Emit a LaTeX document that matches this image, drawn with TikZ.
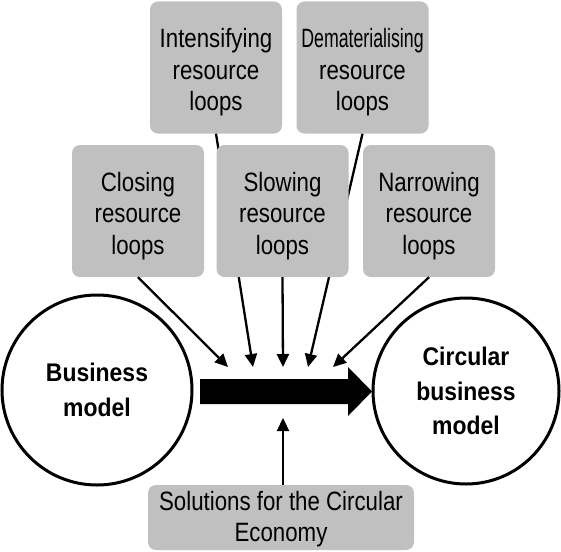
\documentclass[tikz,border=0pt]{standalone}
\usepackage{fontspec}
\setmainfont{Liberation Sans}
\newfontfamily\boxfont[FakeStretch=0.84]{Liberation Sans}
\newfontfamily\squeezefont[FakeStretch=0.67]{Liberation Sans}
\newfontfamily\modelfont[FakeStretch=0.9]{Liberation Sans Bold}
\usetikzlibrary{arrows.meta}

\begin{document}
\begin{tikzpicture}[x=1pt,y=-1pt,
    loopbox/.style={fill={rgb,255:red,192;green,192;blue,192}, rounded corners=8pt,
      minimum width=132pt, minimum height=132pt, inner sep=0pt, align=center,
      font=\boxfont\fontsize{26.5}{31.5}\selectfont, text height=92pt},
    model/.style={draw, line width=3pt, circle, inner sep=0pt, align=center,
      font=\modelfont\fontsize{25.5}{34.5}\selectfont},
    feed/.style={line width=2.3pt, -{Triangle[length=13pt,width=12pt]}}]
      \useasboundingbox (0,0) rectangle (561,551);
      % upper row, its lines pass behind the lower row
      \node[loopbox] (intens) at (216,67.5) {Intensifying\\resource\\loops};
      \node[loopbox] (demat) at (362.5,67.5) {{\squeezefont Dematerialising}\\resource\\loops};
      \coordinate (t1) at (228,367);
      \coordinate (t2) at (253,367);
      \coordinate (t3) at (283,367);
      \coordinate (t4) at (308,367);
      \coordinate (t5) at (333,367);
      \coordinate (t6) at (283,418);
      \draw[feed] (intens.south) -- (t2);
      \draw[feed] (demat.south) -- (t4);
      % lower row
      \node[loopbox] (closing) at (138,211) {Closing\\resource\\loops};
      \node[loopbox] (slowing) at (282.5,211) {Slowing\\resource\\loops};
      \node[loopbox] (narrow) at (429,211) {Narrowing\\resource\\loops};
      \draw[feed] (closing.south) -- (t1);
      \draw[feed] (slowing.south) -- (t3);
      \draw[feed] (narrow.south) -- (t5);
      % the two models and the shift between them
      \node[model, minimum size=190pt] (bm) at (97,390) {Business\\model};
      \node[model, minimum size=186pt] (cbm) at (466,391) {Circular\\business\\model};
      \fill (200,379) -- (348,379) -- (348,367) -- (372,391.5) -- (348,416) -- (348,404) -- (200,404) -- cycle;
      \node[loopbox, minimum width=266pt, minimum height=65pt, text height=54pt] (solutions) at (281,517.5) {Solutions for the Circular\\Economy};
      \draw[feed] (solutions.north -| t6) -- (t6);
    \end{tikzpicture}
\end{document}
